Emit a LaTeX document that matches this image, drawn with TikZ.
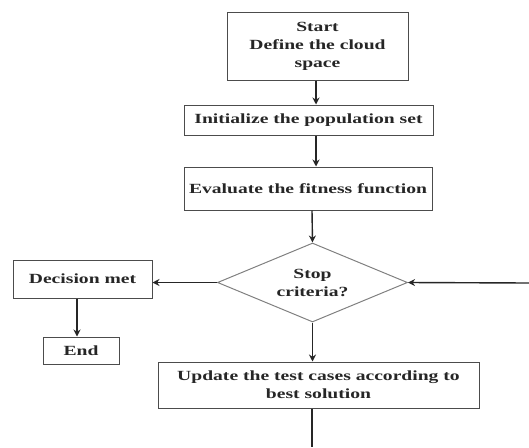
\documentclass[tikz,border=0pt]{standalone}
\usepackage{fontspec}
\setmainfont{Liberation Serif}
\newfontfamily\wideserif[FakeStretch=1.4]{Liberation Serif}
\usetikzlibrary{shapes.geometric,arrows.meta}
\begin{document}
\begin{tikzpicture}[x=1pt,y=-1pt,
  txt/.style={font=\wideserif\fontsize{14}{18}\selectfont\bfseries,text=black!85,align=center},
  box/.style={draw=black!70,line width=1pt,inner sep=0pt,txt},
  conn/.style={draw=black!85,line width=1.4pt,-{Stealth[length=7pt,width=7pt]}},
  plain/.style={draw=black!85,line width=1.4pt}]
\useasboundingbox (0,0) rectangle (529,447);
\node[box,minimum width=181pt,minimum height=68pt] (start) at (317.5,46) {Start\\Define the cloud\\space};
\node[box,minimum width=249pt,minimum height=30pt] (init) at (308.5,120) {Initialize the population set};
\node[box,minimum width=248pt,minimum height=43pt] (eval) at (308,188.5) {Evaluate the fitness function};
\node[diamond,draw=black!50,line width=1pt,minimum width=190pt,minimum height=79pt,inner sep=0pt,aspect=2.4,txt] (stop) at (312.5,282.5) {Stop\\criteria?};
\node[box,minimum width=139pt,minimum height=38pt] (dec) at (82.5,279) {Decision met};
\node[box,minimum width=76pt,minimum height=27pt] (end) at (81,350.5) {End};
\node[box,minimum width=321pt,minimum height=46pt] (upd) at (318.5,385) {Update the test cases according to\\best solution};
\coordinate (bot) at (312,447);
\coordinate (rgt) at (529,283);
\draw[conn] (start.south -| 316,0) -- (init.north -| 316,0);
\draw[conn] (init.south -| 316,0) -- (eval.north -| 316,0);
\draw[conn] (eval.south -| 312,0) -- (stop.north);
\draw[conn] (stop.west) -- (dec.east |- stop.west);
\draw[conn] (dec.south -| 77,0) -- (end.north -| 77,0);
\draw[conn] (stop.south) -- (upd.north -| stop.south);
\draw[plain] (upd.south -| bot) -- (bot);
\draw[conn] (rgt) -- (stop.east);
\end{tikzpicture}
\end{document}
